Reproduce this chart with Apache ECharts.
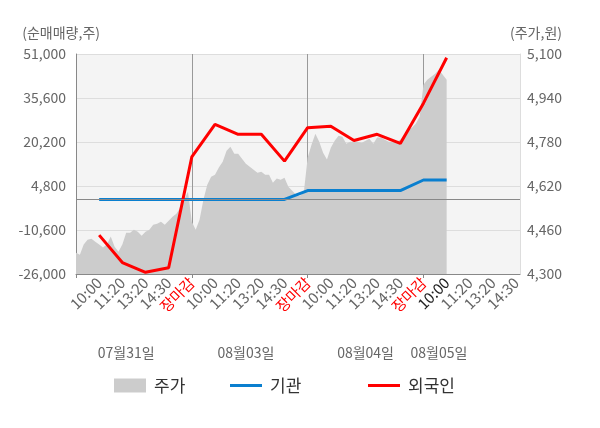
<!DOCTYPE html>
<html style="height: 100%">
<head>
    <meta charset="utf-8">
</head>
<body style="height: 100%; margin: 0">
<div id="container" style="width: 600px; height: 428px"></div>
<script type="text/javascript" src="https://cdn.jsdelivr.net/npm/echarts@6/dist/echarts.min.js"></script>
<script type="text/javascript">
    // x축 눈금 라벨 (6칸마다 하나)
    var tickLabels = ['10:00', '11:20', '13:20', '14:30', '장마감',
        '10:00', '11:20', '13:20', '14:30', '장마감',
        '10:00', '11:20', '13:20', '14:30', '장마감',
        '10:00', '11:20', '13:20', '14:30'];
    var dayLabels = ['07월31일', '08월03일', '08월04일', '08월05일'];

    // 주가 (원), 칸 단위
    var price = [4377, 4370, 4407, 4425, 4428, 4417, 4407, 4396, 4407, 4436,
        4399, 4381, 4407, 4450, 4450, 4461, 4454, 4439, 4454, 4461,
        4479, 4483, 4490, 4479, 4494, 4508, 4519, 4541, 4570, 4599,
        4490, 4461, 4497, 4570, 4625, 4654, 4661, 4687, 4708, 4748,
        4763, 4737, 4737, 4719, 4701, 4690, 4679, 4668, 4672, 4661,
        4661, 4632, 4647, 4643, 4650, 4617, 4603, 4588, 4585, 4596,
        4723, 4770, 4810, 4781, 4741, 4716, 4759, 4785, 4803, 4799,
        4774, 4781, 4781, 4781, 4777, 4785, 4792, 4774, 4796, 4796,
        4788, 4781, 4781, 4781, 4788, 4806, 4825, 4832, 4846, 4872,
        4988, 5006, 5017, 5028, 5043, 5025, 5006];

    // 순매매량 (주), 눈금 라벨 위치마다
    var institution = [100, 100, 100, 100, 100, 100, 100, 100, 100,
        3200, 3200, 3200, 3200, 3200, 6900, 6900];
    var foreign = [-12400, -22000, -25400, -23800, 15000, 26400, 22900, 22900,
        13500, 25200, 25700, 20700, 22900, 19700, 33800, 49700];

    var slotsPerTick = 6;
    var slotCount = tickLabels.length * slotsPerTick + 2;
    var slotsPerDay = 30;
    var daySlots = [13, 44, 75, 94];
    // 마지막 데이터가 있는 눈금 (현재 시각) 은 진하게
    var currentSlot = foreign.length * slotsPerTick;

    var categories = [];
    for (var i = 0; i < slotCount; i++) {
        categories.push(String(i));
    }
    function atTicks(values) {
        var out = [];
        for (var i = 0; i < slotCount; i++) out.push(null);
        values.forEach(function (v, k) {
            out[(k + 1) * slotsPerTick] = v;
        });
        return out;
    }
    function tickLabelOf(index) {
        if (index === 0 || index % slotsPerTick !== 0) return '';
        return tickLabels[index / slotsPerTick - 1] || '';
    }

    var font = 'Noto Sans CJK KR';
    var legendBase = {
        top: 377, padding: 0, itemWidth: 32, itemHeight: 14,
        textStyle: {fontSize: 17, color: '#333', fontFamily: font, padding: [0, 0, 0, 3]}
    };
    function legendAt(name, left, icon, h) {
        return Object.assign({}, legendBase, {
            left: left,
            data: [{name: name, icon: icon}],
            itemHeight: h
        });
    }

    var dom = document.getElementById("container");
    var myChart = echarts.init(dom);
    var option = {
        animation: false,
        textStyle: {fontFamily: font},
        grid: {
            left: 76, right: 80, top: 54, bottom: 154,
            show: true, backgroundColor: '#f4f4f4', borderWidth: 0
        },
        legend: [
            legendAt('주가', 114, 'rect', 14),
            legendAt('기관', 230, 'rect', 3),
            legendAt('외국인', 368, 'rect', 3)
        ],
        xAxis: [{
            type: 'category',
            data: categories,
            boundaryGap: false,
            axisLine: {onZero: false, lineStyle: {color: '#888'}},
            axisTick: {
                length: 4,
                lineStyle: {color: '#888'},
                interval: function (index) { return index % slotsPerDay === 0; }
            },
            splitLine: {
                show: true,
                lineStyle: {color: '#999'},
                interval: function (index) { return index % slotsPerDay === 0; }
            },
            axisLabel: {
                rotate: 45,
                fontSize: 15,
                margin: 6,
                interval: function (index) { return tickLabelOf(index) !== ''; },
                formatter: function (value, index) { return tickLabelOf(index); },
                color: function (value) {
                    var idx = Number(value);
                    if (tickLabelOf(idx) === '장마감') return '#ff0000';
                    if (idx === currentSlot) return '#222';
                    return '#666';
                }
            }
        }, {
            type: 'category',
            data: categories,
            boundaryGap: false,
            position: 'bottom',
            axisLine: {show: false},
            axisTick: {show: false},
            axisLabel: {
                fontSize: 14,
                color: '#666',
                margin: 72,
                interval: function (index) { return daySlots.indexOf(index) >= 0; },
                formatter: function (value, index) {
                    var d = daySlots.indexOf(index);
                    return d >= 0 ? dayLabels[d] : '';
                }
            }
        }],
        yAxis: [{
            type: 'value',
            min: -26000, max: 51000, interval: 15400,
            name: '(순매매량,주)',
            nameGap: 14,
            nameTextStyle: {fontSize: 14, color: '#666', align: 'right', padding: [0, -24, 0, 0]},
            axisLine: {show: true, lineStyle: {color: '#888'}},
            axisTick: {show: false},
            splitLine: {lineStyle: {color: '#dddddd'}},
            axisLabel: {
                fontSize: 14, color: '#666', margin: 10,
                formatter: function (v) { return v.toLocaleString('en-US'); }
            }
        }, {
            type: 'value',
            min: 4300, max: 5100, interval: 160,
            name: '(주가,원)',
            nameGap: 14,
            nameTextStyle: {fontSize: 14, color: '#666', align: 'left', padding: [0, 0, 0, -10]},
            axisLine: {show: true, lineStyle: {color: '#dddddd'}},
            axisTick: {show: false},
            splitLine: {show: false},
            axisLabel: {
                fontSize: 14, color: '#666', margin: 7,
                formatter: function (v) { return v.toLocaleString('en-US'); }
            }
        }],
        series: [{
            name: '주가',
            type: 'line',
            yAxisIndex: 1,
            data: price,
            symbol: 'none',
            itemStyle: {color: '#cccccc'},
            lineStyle: {width: 0},
            areaStyle: {color: '#cccccc', opacity: 1},
            z: 1
        }, {
            name: '기관',
            type: 'line',
            data: atTicks(institution),
            connectNulls: true,
            symbol: 'none',
            itemStyle: {color: '#0a7fcf'},
            lineStyle: {width: 3, color: '#0a7fcf'},
            markLine: {
                silent: true,
                symbol: ['none', 'none'],
                label: {show: false},
                lineStyle: {color: '#888', type: 'solid', width: 1},
                data: [{yAxis: 0}]
            },
            z: 3
        }, {
            name: '외국인',
            type: 'line',
            data: atTicks(foreign),
            connectNulls: true,
            symbol: 'none',
            itemStyle: {color: '#ff0000'},
            lineStyle: {width: 3, color: '#ff0000'},
            z: 4
        }]
    };
    myChart.setOption(option, true);
</script>
</body>
</html>
